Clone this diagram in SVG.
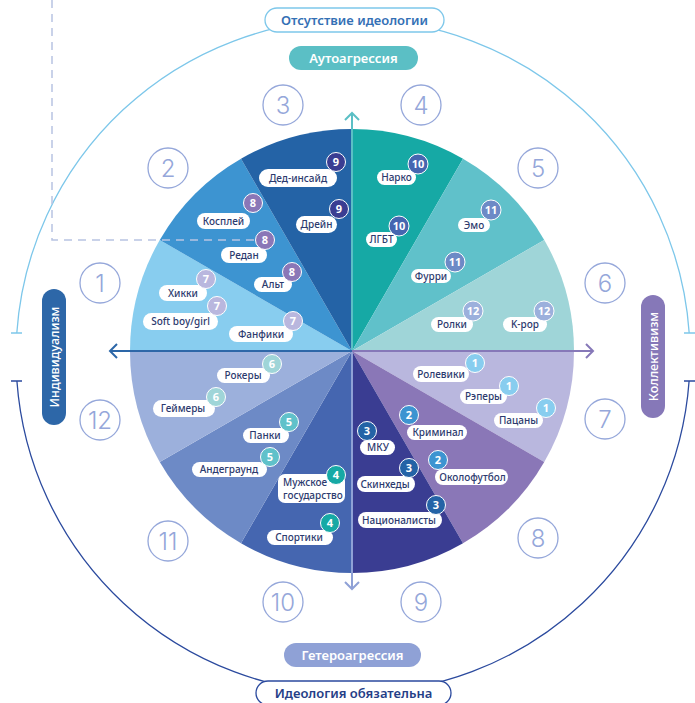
<svg xmlns="http://www.w3.org/2000/svg" width="695" height="703" viewBox="0 0 695 703">
<style>
.lbl{fill:#fff}
.lt{font-family:"Noto Sans","DejaVu Sans",sans-serif;font-size:10px;font-weight:500;fill:#2C3A6E;text-anchor:middle}
.bt{font-family:"Noto Sans","DejaVu Sans",sans-serif;font-size:11px;font-weight:700;fill:#fff;text-anchor:middle}
.bd{stroke:#fff;stroke-width:1}
.nc{fill:#fff;stroke:#95A7DA;stroke-width:1.3}
.nt{font-family:"Inter","Noto Sans",sans-serif;font-size:24px;font-weight:300;fill:#95A7DA;text-anchor:middle}
.ht{font-family:"Noto Sans","DejaVu Sans",sans-serif;font-size:13px;font-weight:600;text-anchor:middle}
.vt{font-family:"Noto Sans","DejaVu Sans",sans-serif;font-size:12.5px;font-weight:500;fill:#fff;text-anchor:middle}
.c1{fill:#88CDEF}.c2{fill:#3D94D1}.c3{fill:#2463A6}.c4{fill:#16A9A5}.c5{fill:#60C1CA}.c6{fill:#9FD5D8}
.c7{fill:#B9B7DE}.c8{fill:#8A77B7}.c9{fill:#3A3D92}.c10{fill:#4566B0}.c11{fill:#6D8AC6}.c12{fill:#9CB0DC}
</style>
<defs>
<marker id="mT" markerWidth="16" markerHeight="16" refX="8" refY="8" orient="auto" markerUnits="userSpaceOnUse"><path d="M1,1 L8,8 L1,15" fill="none" stroke="#5BBFC5" stroke-width="2"/></marker>
<marker id="mB" markerWidth="16" markerHeight="16" refX="8" refY="8" orient="auto" markerUnits="userSpaceOnUse"><path d="M1,1 L8,8 L1,15" fill="none" stroke="#8FA1D6" stroke-width="2"/></marker>
<marker id="mL" markerWidth="16" markerHeight="16" refX="8" refY="8" orient="auto" markerUnits="userSpaceOnUse"><path d="M1,1 L8,8 L1,15" fill="none" stroke="#2D67A8" stroke-width="2"/></marker>
<marker id="mR" markerWidth="16" markerHeight="16" refX="8" refY="8" orient="auto" markerUnits="userSpaceOnUse"><path d="M1,1 L8,8 L1,15" fill="none" stroke="#8678B8" stroke-width="2"/></marker>
</defs>
<rect width="695" height="703" fill="#fff"/>

<g id="outer-ring" fill="none" stroke-width="1.3">
<path d="M16.8,333 A337,337 0 0 1 689.2,333" stroke="#7DC7EA"/>
<path d="M11,333 H22 M684,333 H695" stroke="#7DC7EA"/>
<path d="M16.9,381 A337,337 0 0 0 689.1,381" stroke="#2B4A9E"/>
<path d="M11,381 H22 M684,381 H695" stroke="#2B4A9E"/>
</g>

<g id="pie">
<path class="c4" d="M352,351 L352,129 A222,222 0 0 1 463,158.74 Z"/>
<path class="c5" d="M352,351 L463,158.74 A222,222 0 0 1 544.26,240 Z"/>
<path class="c6" d="M352,351 L544.26,240 A222,222 0 0 1 574,351 Z"/>
<path class="c7" d="M352,351 L574,351 A222,222 0 0 1 544.26,462 Z"/>
<path class="c8" d="M352,351 L544.26,462 A222,222 0 0 1 463,543.26 Z"/>
<path class="c9" d="M352,351 L463,543.26 A222,222 0 0 1 352,573 Z"/>
<path class="c10" d="M352,351 L352,573 A222,222 0 0 1 241,543.26 Z"/>
<path class="c11" d="M352,351 L241,543.26 A222,222 0 0 1 159.74,462 Z"/>
<path class="c12" d="M352,351 L159.74,462 A222,222 0 0 1 130,351 Z"/>
<path class="c1" d="M352,351 L130,351 A222,222 0 0 1 159.74,240 Z"/>
<path class="c2" d="M352,351 L159.74,240 A222,222 0 0 1 241,158.74 Z"/>
<path class="c3" d="M352,351 L241,158.74 A222,222 0 0 1 352,129 Z"/>
</g>

<path id="dashed-frame" d="M52,0 V240 H258" fill="none" stroke="#B8C3E2" stroke-width="1.5" stroke-dasharray="8 6"/>

<g id="connectors" fill="none" stroke-width="2">
<line x1="352" y1="351" x2="352" y2="113" stroke="#5BBFC5" marker-end="url(#mT)"/>
<line x1="352" y1="351" x2="352" y2="589" stroke="#8FA1D6" marker-end="url(#mB)"/>
<line x1="352" y1="351" x2="110" y2="351" stroke="#2D67A8" marker-end="url(#mL)"/>
<line x1="352" y1="351" x2="593" y2="351" stroke="#8678B8" marker-end="url(#mR)"/>
</g>

<g id="sector-numbers">
<g id="n1"><circle class="nc" cx="100" cy="283" r="20"/><text class="nt" x="100" y="291.5">1</text></g>
<g id="n2"><circle class="nc" cx="168" cy="168" r="20"/><text class="nt" x="168" y="176.5">2</text></g>
<g id="n3"><circle class="nc" cx="283" cy="105" r="20"/><text class="nt" x="283" y="113.5">3</text></g>
<g id="n4"><circle class="nc" cx="421" cy="105" r="20"/><text class="nt" x="421" y="113.5">4</text></g>
<g id="n5"><circle class="nc" cx="538" cy="168" r="20"/><text class="nt" x="538" y="176.5">5</text></g>
<g id="n6"><circle class="nc" cx="605" cy="283" r="20"/><text class="nt" x="605" y="291.5">6</text></g>
<g id="n7"><circle class="nc" cx="605" cy="419" r="20"/><text class="nt" x="605" y="427.5">7</text></g>
<g id="n8"><circle class="nc" cx="538" cy="538" r="20"/><text class="nt" x="538" y="546.5">8</text></g>
<g id="n9"><circle class="nc" cx="421" cy="602" r="20"/><text class="nt" x="421" y="610.5">9</text></g>
<g id="n10"><circle class="nc" cx="283" cy="602" r="20"/><text class="nt" x="283" y="610.5">10</text></g>
<g id="n11"><circle class="nc" cx="168" cy="541" r="20"/><text class="nt" x="168" y="549.5">11</text></g>
<g id="n12"><circle class="nc" cx="100" cy="420" r="20"/><text class="nt" x="100" y="428.5">12</text></g>
</g>

<g id="headers">
<g id="h-top"><rect x="265" y="8" width="179" height="24" rx="12" fill="#fff" stroke="#7DC7EA" stroke-width="1.3"/><text class="ht" x="354.5" y="24.5" fill="#3470B5">Отсутствие идеологии</text></g>
<g id="h-auto"><rect x="289" y="46" width="129" height="24" rx="12" fill="#5BBFC5"/><text class="ht" x="353.5" y="62.5" fill="#fff">Аутоагрессия</text></g>
<g id="h-hetero"><rect x="284" y="643" width="137" height="24" rx="12" fill="#8FA1D6"/><text class="ht" x="352.5" y="659.5" fill="#fff">Гетероагрессия</text></g>
<g id="h-bottom"><rect x="256" y="681" width="195" height="24" rx="12" fill="#fff" stroke="#2B4A9E" stroke-width="1.3"/><text class="ht" x="353.5" y="697.5" fill="#253E87" font-weight="700">Идеология обязательна</text></g>
<g id="h-ind"><rect x="42" y="289" width="24" height="136" rx="12" fill="#2D67A8"/><text class="vt" transform="translate(58.5,357) rotate(-90)">Индивидуализм</text></g>
<g id="h-kol"><rect x="641" y="295" width="24" height="123" rx="12" fill="#8678B8"/><text class="vt" transform="translate(657.5,356.5) rotate(-90)">Коллективизм</text></g>
</g>

<g id="labels">
<g id="l-ded"><rect class="lbl" x="259" y="169" width="78" height="18" rx="9"/><text class="lt" x="298" y="181.5">Дед-инсайд</text><circle class="c9 bd" cx="336" cy="162" r="9.5"/><text class="bt" x="336" y="166">9</text></g>
<g id="l-drein"><rect class="lbl" x="296" y="216" width="41" height="17" rx="8.5"/><text class="lt" x="316.5" y="228">Дрейн</text><circle class="c9 bd" cx="339" cy="209" r="9.5"/><text class="bt" x="339" y="213">9</text></g>
<g id="l-cosplay"><rect class="lbl" x="197" y="213" width="53" height="16" rx="8"/><text class="lt" x="223.5" y="224.5">Косплей</text><circle class="c8 bd" cx="253" cy="203" r="9.5"/><text class="bt" x="253" y="207">8</text></g>
<g id="l-redan"><rect class="lbl" x="221" y="247" width="46" height="16" rx="8"/><text class="lt" x="244" y="258.5">Редан</text><circle class="c8 bd" cx="265" cy="240" r="9.5"/><text class="bt" x="265" y="244">8</text></g>
<g id="l-alt"><rect class="lbl" x="254" y="277" width="38" height="15" rx="7.5"/><text class="lt" x="273" y="288">Альт</text><circle class="c8 bd" cx="292" cy="272" r="9.5"/><text class="bt" x="292" y="276">8</text></g>
<g id="l-hikki"><rect class="lbl" x="159" y="285" width="48" height="16" rx="8"/><text class="lt" x="183" y="296.5">Хикки</text><circle class="c7 bd" cx="206" cy="279" r="9.5"/><text class="bt" x="206" y="283">7</text></g>
<g id="l-soft"><rect class="lbl" x="143" y="313" width="75" height="17" rx="8.5"/><text class="lt" x="180.5" y="325">Soft boy/girl</text><circle class="c7 bd" cx="217" cy="306" r="9.5"/><text class="bt" x="217" y="310">7</text></g>
<g id="l-fanfic"><rect class="lbl" x="229" y="326" width="64" height="16" rx="8"/><text class="lt" x="261" y="337.5">Фанфики</text><circle class="c7 bd" cx="293" cy="321" r="9.5"/><text class="bt" x="293" y="325">7</text></g>
<g id="l-narko"><rect class="lbl" x="377" y="170" width="39" height="15" rx="7.5"/><text class="lt" x="396.5" y="181">Нарко</text><circle class="c10 bd" cx="418" cy="164" r="10"/><text class="bt" x="418" y="168">10</text></g>
<g id="l-lgbt"><rect class="lbl" x="366" y="232" width="31" height="15" rx="7.5"/><text class="lt" x="381.5" y="243">ЛГБТ</text><circle class="c10 bd" cx="399" cy="226" r="10"/><text class="bt" x="399" y="230">10</text></g>
<g id="l-emo"><rect class="lbl" x="458" y="218" width="32" height="14" rx="7"/><text class="lt" x="474" y="228.5">Эмо</text><circle class="c11 bd" cx="491" cy="210" r="10"/><text class="bt" x="491" y="214">11</text></g>
<g id="l-furri"><rect class="lbl" x="411" y="269" width="40" height="14" rx="7"/><text class="lt" x="431" y="279.5">Фурри</text><circle class="c11 bd" cx="455" cy="262" r="10"/><text class="bt" x="455" y="266">11</text></g>
<g id="l-rolki"><rect class="lbl" x="431" y="317" width="42" height="15" rx="7.5"/><text class="lt" x="452" y="328">Ролки</text><circle class="c12 bd" cx="473" cy="311" r="10"/><text class="bt" x="473" y="315">12</text></g>
<g id="l-kpop"><rect class="lbl" x="503" y="317" width="44" height="15" rx="7.5"/><text class="lt" x="525" y="328">K-pop</text><circle class="c12 bd" cx="544" cy="311" r="10"/><text class="bt" x="544" y="315">12</text></g>
<g id="l-rolev"><rect class="lbl" x="413" y="366" width="56" height="16" rx="8"/><text class="lt" x="441" y="377.5">Ролевики</text><circle class="c1 bd" cx="475" cy="363" r="9.5"/><text class="bt" x="475" y="367">1</text></g>
<g id="l-repery"><rect class="lbl" x="460" y="389" width="47" height="15" rx="7.5"/><text class="lt" x="483.5" y="400">Рэперы</text><circle class="c1 bd" cx="509" cy="386" r="9.5"/><text class="bt" x="509" y="390">1</text></g>
<g id="l-pacany"><rect class="lbl" x="494" y="413" width="49" height="15" rx="7.5"/><text class="lt" x="518.5" y="424">Пацаны</text><circle class="c1 bd" cx="546" cy="408" r="9.5"/><text class="bt" x="546" y="412">1</text></g>
<g id="l-krim"><rect class="lbl" x="407" y="425" width="60" height="15" rx="7.5"/><text class="lt" x="438" y="436">Криминал</text><circle class="c2 bd" cx="409" cy="415" r="9.5"/><text class="bt" x="409" y="419">2</text></g>
<g id="l-okolo"><rect class="lbl" x="435" y="469" width="73" height="16" rx="8"/><text class="lt" x="472.5" y="480.5">Околофутбол</text><circle class="c2 bd" cx="438" cy="460" r="9.5"/><text class="bt" x="438" y="464">2</text></g>
<g id="l-mku"><rect class="lbl" x="360" y="440" width="35" height="15" rx="7.5"/><text class="lt" x="378" y="451">МКУ</text><circle class="c3 bd" cx="367" cy="431" r="9.5"/><text class="bt" x="367" y="435">3</text></g>
<g id="l-skin"><rect class="lbl" x="357" y="476" width="58" height="16" rx="8"/><text class="lt" x="385" y="487.5">Скинхеды</text><circle class="c3 bd" cx="409" cy="468" r="9.5"/><text class="bt" x="409" y="472">3</text></g>
<g id="l-nac"><rect class="lbl" x="358" y="512" width="84" height="16" rx="8"/><text class="lt" x="399" y="523.5">Националисты</text><circle class="c3 bd" cx="436" cy="505" r="9.5"/><text class="bt" x="436" y="509">3</text></g>
<g id="l-rokery"><rect class="lbl" x="217" y="368" width="53" height="15" rx="7.5"/><text class="lt" x="243" y="379">Рокеры</text><circle class="c6 bd" cx="272" cy="364" r="9.5"/><text class="bt" x="272" y="368">6</text></g>
<g id="l-geimery"><rect class="lbl" x="153" y="400" width="62" height="17" rx="8.5"/><text class="lt" x="183" y="412">Геймеры</text><circle class="c6 bd" cx="216" cy="397" r="9.5"/><text class="bt" x="216" y="401">6</text></g>
<g id="l-panki"><rect class="lbl" x="243" y="428" width="46" height="15" rx="7.5"/><text class="lt" x="265" y="439">Панки</text><circle class="c5 bd" cx="289" cy="422" r="9.5"/><text class="bt" x="289" y="426">5</text></g>
<g id="l-under"><rect class="lbl" x="192" y="462" width="75" height="15" rx="7.5"/><text class="lt" x="229" y="473">Андеграунд</text><circle class="c5 bd" cx="270" cy="457" r="9.5"/><text class="bt" x="270" y="461">5</text></g>
<g id="l-muzh"><rect class="lbl" x="278" y="474" width="67" height="29" rx="7"/><text class="lt" x="283" y="486" style="text-anchor:start">Мужское</text><text class="lt" x="283" y="499" style="text-anchor:start">государство</text><circle class="c4 bd" cx="336" cy="475" r="9.5"/><text class="bt" x="336" y="479">4</text></g>
<g id="l-sport"><rect class="lbl" x="267" y="530" width="66" height="15" rx="7.5"/><text class="lt" x="299" y="541">Спортики</text><circle class="c4 bd" cx="330" cy="523" r="9.5"/><text class="bt" x="330" y="527">4</text></g>
</g>
</svg>
